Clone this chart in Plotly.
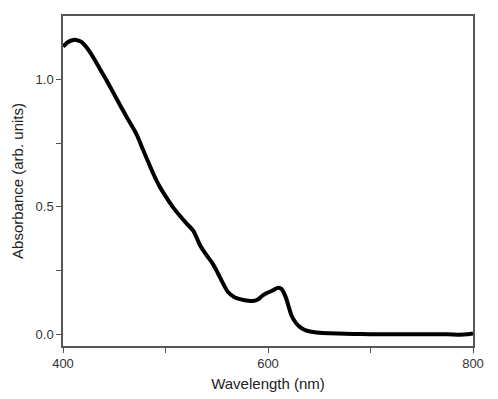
import plotly.graph_objects as go

# absorbance spectrum
wavelength = [400, 405, 410, 413, 418, 426, 436, 442, 450, 456, 464, 472, 478, 484, 488,
              494, 501, 507, 514, 520, 527, 534, 540, 546, 551, 556, 561, 566, 570, 576,
              585, 590, 595, 600, 605, 610, 613, 617, 620, 623, 627, 631, 635, 639, 644,
              650, 660, 675, 690, 710, 730, 750, 775, 787, 795, 800]
absorbance = [1.13, 1.148, 1.156, 1.156, 1.148, 1.11, 1.042, 1.0, 0.942, 0.897, 0.84, 0.783, 0.725, 0.668, 0.631,
              0.582, 0.536, 0.5, 0.465, 0.437, 0.406, 0.347, 0.31, 0.277, 0.24, 0.2, 0.165, 0.148, 0.14, 0.134,
              0.13, 0.136, 0.152, 0.163, 0.172, 0.182, 0.178, 0.148, 0.11, 0.072, 0.045, 0.028, 0.018, 0.012, 0.008,
              0.005, 0.003, 0.001, 0.0, -0.001, -0.001, -0.001, -0.001, -0.003, -0.001, 0.002]

x_ticks = [400, 500, 600, 700, 800]
x_labels = ["400", "", "600", "", "800"]
y_ticks = [0.0, 0.25, 0.5, 0.75, 1.0]
y_labels = ["0.0", "", "0.5", "", "1.0"]

fig = go.Figure()
fig.add_trace(go.Scatter(x=wavelength, y=absorbance, mode="lines",
                         line=dict(color="black", width=4, shape="spline", smoothing=0.8),
                         showlegend=False))

axis_style = dict(showline=True, mirror=True, linecolor="#555555", linewidth=1.5,
                  ticks="outside", ticklen=5, tickcolor="#555555", tickwidth=1,
                  showgrid=False, zeroline=False,
                  tickfont=dict(family="Liberation Sans, Arial", size=13, color="#333333"),
                  title_font=dict(family="Liberation Sans, Arial", size=15, color="#222222"))

fig.update_xaxes(range=[400, 800], tickvals=x_ticks, ticktext=x_labels,
                 title_text="Wavelength (nm)", title_standoff=8, **axis_style)
fig.update_yaxes(range=[-0.047, 1.25], tickvals=y_ticks, ticktext=y_labels,
                 title_text="Absorbance (arb. units)", title_standoff=8, **axis_style)

# page adds ~8px body margin, so the figure is a bit smaller than the window
fig.update_layout(width=490, height=391, template="simple_white",
                  paper_bgcolor="white", plot_bgcolor="white",
                  margin=dict(l=55, r=25, t=6, b=53))

fig.write_html("out.html")
